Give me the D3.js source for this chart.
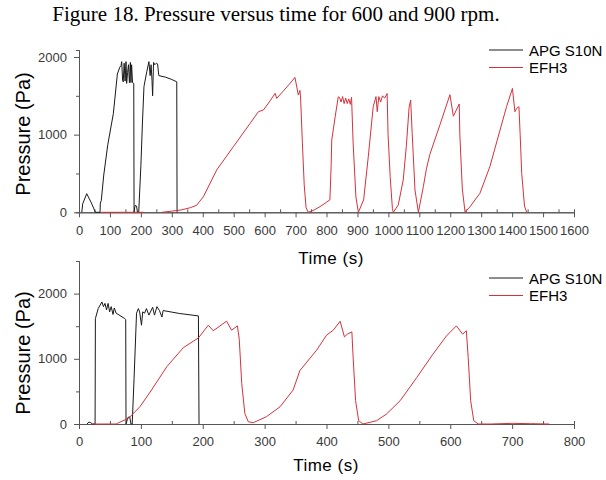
<!DOCTYPE html>
<html>
<head>
<meta charset="utf-8">
<script src="https://cdn.jsdelivr.net/npm/d3@7"></script>
<style>
  body { margin: 0; background: #fff; }
  .tick text { font-family: "Liberation Sans", Arial, sans-serif; font-size: 13px; fill: #3a3a3a; }
  .domain, .tick line { stroke: #555; }
</style>
</head>
<body>
<script>
const w = 606;
const h = 480;

// 600 rpm (top panel)
const apg600T = [9, 12, 25, 40, 53, 60, 68, 69, 72, 80, 93, 111, 124, 132, 136, 138, 141, 143, 146, 149, 152, 154, 157, 160, 163, 166, 168, 170, 173, 177, 178, 180, 182, 186, 189, 193, 200, 205, 210, 219, 226, 230, 233, 236, 238, 241, 245, 250, 254, 258, 280, 300, 316, 317];
const apg600P = [0, 110, 240, 120, 0, 0, 0, 120, 150, 480, 870, 1270, 1780, 1870, 1890, 1940, 1700, 1680, 1920, 1690, 1940, 1660, 1800, 1900, 1670, 1930, 1670, 1900, 1670, 1660, 0, 60, 90, 80, 0, 0, 600, 1150, 1620, 1810, 1940, 1760, 1900, 1700, 1500, 1930, 1900, 1920, 1910, 1760, 1740, 1710, 1680, 0];
const efh600T = [72, 120, 170, 210, null, 268, 300, 330, 360, 380, 402, 445, 499, 553, 580, 596, 615, 634, 639, 660, 680, 698, 709, 714, 716, 722, 728, 734, 741, 760, 779, 800, 811, 815, 817, 828, 838, 842, 847, 852, 857, 862, 867, 872, 877, 881, 886, 895, 903, 920, 935, 951, 960, 964, 969, 975, 981, 988, 996, 999, 1006, 1013, 1016, 1032, 1048, 1058, 1067, 1072, 1077, 1086, 1097, 1113, 1123, 1134, 1167, 1199, 1210, 1229, 1231, 1239, 1248, 1264, 1296, 1328, 1361, 1382, 1401, 1409, 1415, 1422, 1426, 1431, 1440, 1447];
const efh600P = [0, 0, 0, 0, null, 0, 15, 30, 60, 90, 200, 545, 845, 1145, 1296, 1317, 1420, 1532, 1467, 1560, 1650, 1737, 1510, 1570, 1500, 900, 350, 60, 0, 30, 73, 130, 160, 600, 930, 1230, 1487, 1480, 1420, 1490, 1400, 1470, 1400, 1460, 1390, 1480, 900, 200, 0, 160, 715, 1360, 1490, 1295, 1490, 1420, 1500, 1470, 1530, 1000, 450, 50, 0, 95, 416, 850, 1352, 1446, 1015, 287, 0, 330, 560, 745, 1130, 1515, 1237, 1395, 1000, 300, 0, 73, 245, 587, 1060, 1360, 1595, 1296, 1340, 1360, 1000, 500, 80, 0];

// 900 rpm (bottom panel)
const apg900T = [13, 16, 19, 22, 26, 26.5, 31, 37, 39.5, 42, 44.5, 47, 49.5, 52, 55, 57, 60, 74, 75.5, 76, 79, 82, 84, 86, 89, 93, 96, 98, 101, 103, 106, 109, 113, 119, 122, 126, 130, 134, 136, 163, 193, 194];
const apg900P = [0, 30, 20, 0, 0, 1617, 1770, 1872, 1800, 1850, 1750, 1850, 1720, 1800, 1680, 1780, 1700, 1617, 1600, 0, 100, 110, 0, 0, 700, 1700, 1770, 1720, 1515, 1720, 1700, 1770, 1670, 1790, 1670, 1800, 1740, 1640, 1740, 1694, 1658, 0];
const efh900T = [22, 60, 64, 80, 98.5, 115, 142, 168.5, 193, 209, 217, 238.5, 246.6, 256, 259, 263, 268, 273.5, 281.6, 303, 325, 346, 357, 384, 400, 411, 422, 429, 434, 441, 443, 447, 452, 459, 481, 497, 519, 546, 572, 594, 610, 620, 626, 629, 633, 638, 645, 665, 700, 730, 760];
const efh900P = [0, 0, 20, 87, 265, 490, 880, 1170, 1320, 1515, 1430, 1577, 1439, 1505, 1300, 622, 163, 35, 20, 112, 265, 520, 820, 1132, 1362, 1439, 1576, 1336, 1380, 1413, 1030, 357, 51, 0, 51, 153, 357, 714, 1071, 1352, 1505, 1378, 1430, 1020, 357, 51, 0, 0, 10, 5, 0];

const seriesNames = ["APG S10N", "EFH3"];
const seriesColors = ["#1a1a1a", "#d6323c"];

const svg = d3
  .select("body")
  .append("svg")
  .attr("width", w)
  .attr("height", h);

// title
svg
  .append("text")
  .attr("x", 276)
  .attr("y", 21)
  .style("text-anchor", "middle")
  .style("font-family", "'Liberation Serif', 'Times New Roman', serif")
  .style("font-size", "21px")
  .text("Figure 18. Pressure versus time for 600 and 900 rpm.");

function zip(t, p) {
  return t.map((d, i) => ({ t: d, p: p[i] }));
}

function panel(opt) {
  const xScale = d3.scaleLinear().domain([0, opt.xMax]).range([79, 574]);
  const yScale = d3.scaleLinear().domain([0, opt.yMax]).range([opt.y0, opt.y1]);

  const major = d3.range(0, opt.xMax + 1, 100);
  const minor = d3.range(50, opt.xMax, 100);

  // minor x ticks (inward)
  svg
    .append("g")
    .attr("transform", "translate(0," + opt.y0 + ")")
    .call(d3.axisBottom(xScale).tickValues(minor).tickSize(-3).tickFormat(""));

  // x-axis
  svg
    .append("g")
    .attr("transform", "translate(0," + opt.y0 + ")")
    .call(
      d3.axisBottom(xScale).tickValues(major).tickFormat(d3.format("d"))
        .tickSize(5).tickPadding(8).tickSizeOuter(0)
    );

  // y-axis minor ticks
  svg
    .append("g")
    .attr("transform", "translate(79,0)")
    .call(d3.axisLeft(yScale).tickValues(opt.yMinor).tickSize(3).tickFormat(""));

  svg
    .append("g")
    .attr("transform", "translate(79,0)")
    .call(
      d3.axisLeft(yScale).tickValues([0, 1000, 2000]).tickFormat(d3.format("d"))
        .tickSize(5).tickPadding(7).tickSizeOuter(0)
    );

  // label for x-axis
  svg
    .append("text")
    .attr("x", opt.xLabelX)
    .attr("y", opt.xLabelY)
    .style("text-anchor", "middle")
    .style("font-family", "'Liberation Sans', Arial, sans-serif")
    .style("font-size", "17px")
    .style("letter-spacing", "0.5px")
    .text("Time (s)");

  // label for y-axis
  svg
    .append("text")
    .attr("transform", "translate(30," + opt.yLabelY + ") rotate(-90)")
    .style("text-anchor", "middle")
    .style("font-family", "'Liberation Sans', Arial, sans-serif")
    .style("font-size", "20px")
    .text("Pressure (Pa)");

  const line = d3
    .line()
    .defined(d => d.t !== null)
    .x(d => xScale(d.t))
    .y(d => yScale(d.p));

  opt.series.forEach((s, i) => {
    svg
      .append("path")
      .datum(s)
      .attr("d", line)
      .attr("fill", "none")
      .attr("stroke", seriesColors[i])
      .attr("stroke-width", 1);
  });

  // legend
  seriesNames.forEach((name, i) => {
    const ly = opt.legendY + i * 17.5;
    svg
      .append("line")
      .attr("x1", 489)
      .attr("x2", 523)
      .attr("y1", ly)
      .attr("y2", ly)
      .attr("stroke", seriesColors[i])
      .attr("stroke-width", 1);
    svg
      .append("text")
      .attr("x", 529)
      .attr("y", ly + 5.5)
      .style("font-family", "'Liberation Sans', Arial, sans-serif")
      .style("font-size", "15px")
      .text(name);
  });
}

panel({
  xMax: 1600,
  yMax: 2090,
  y0: 212.3,
  y1: 50,
  yMinor: [500, 1500],
  xLabelX: 331,
  xLabelY: 264,
  yLabelY: 134,
  legendY: 50,
  series: [zip(apg600T, apg600P), zip(efh600T, efh600P)]
});

panel({
  xMax: 800,
  yMax: 2500,
  y0: 424,
  y1: 261,
  yMinor: [500, 1500, 2500],
  xLabelX: 326,
  xLabelY: 471,
  yLabelY: 353,
  legendY: 278,
  series: [zip(apg900T, apg900P), zip(efh900T, efh900P)]
});
</script>
</body>
</html>
